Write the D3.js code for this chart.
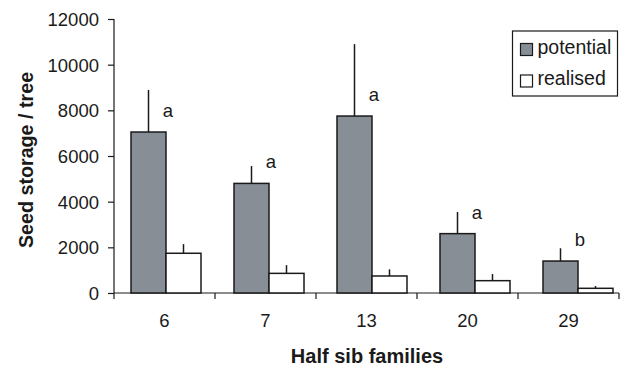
<!DOCTYPE html>
<html><head><meta charset="utf-8">
<script src="https://cdn.jsdelivr.net/npm/d3@7"></script>
<style>body{margin:0;background:#fff}svg{display:block}text{font-family:"Liberation Sans",Arial,sans-serif;fill:#1a1a1a}</style>
</head><body><svg id="c" width="633" height="368"></svg>
<script>
const categories = ["6","7","13","20","29"];
const series = ["potential","realised"];
const potential = [7050, 4800, 7750, 2600, 1400];
const potentialErr = [1840, 760, 3150, 950, 560];
const realised = [1740, 860, 745, 540, 205];
const realisedErr = [400, 360, 290, 290, 100];
const letters = ["a","a","a","a","b"];
const yTicks = [0,2000,4000,6000,8000,10000,12000];

const svg = d3.select("#c");
const y = d3.scaleLinear().domain([0,12000]).range([293,19]);
const xAxisScale = d3.scaleBand().domain(categories).range([114,619]).padding(0);
const xBar = d3.scaleBand().domain(categories).range([114.5,629.5]).padding(0);
const barW = 35;
const xs = d3.scaleBand().domain(series).range([-barW, barW]);
const fills = {potential:"#878e95", realised:"#ffffff"};
const vals = {potential, realised};
const errs = {potential: potentialErr, realised: realisedErr};
const ink = "#1a1a1a";

// y axis
const ya = svg.append("g").attr("transform","translate(114,0)")
  .call(d3.axisLeft(y).tickValues(yTicks).tickSize(6).tickPadding(9).tickFormat(d3.format("d")));
ya.attr("font-size",null).attr("font-family",null);
ya.select(".domain").attr("stroke",ink).attr("stroke-width",1.2).attr("d","M0,19V293");
ya.selectAll(".tick line").attr("stroke",ink).attr("stroke-width",1.2);
ya.selectAll(".tick text").style("font-size","18.5px").attr("fill",ink).attr("dy","0.35em");

// x axis
const xa = svg.append("g").attr("transform","translate(0,293)")
  .call(d3.axisBottom(xAxisScale).tickSize(0).tickPadding(21));
xa.attr("font-size",null).attr("font-family",null);
xa.select(".domain").attr("stroke",ink).attr("stroke-width",1.2).attr("d","M114,0H619");
xa.selectAll(".tick text").style("font-size","18.5px").attr("fill",ink);
const bounds = categories.map(c => xAxisScale(c)).concat([xAxisScale(categories[categories.length-1]) + xAxisScale.bandwidth()]);
xa.selectAll("line.bt").data(bounds).join("line").attr("class","bt")
  .attr("x1",d=>d).attr("x2",d=>d).attr("y1",0).attr("y2",6).attr("stroke",ink).attr("stroke-width",1.2);

// bars
series.forEach(s => {
  const g = svg.append("g");
  categories.forEach((c,i) => {
    const cx = xBar(c) + xBar.bandwidth()/2;
    const x0 = cx + xs(s);
    const v = vals[s][i], e = errs[s][i];
    g.append("line").attr("x1",x0+barW/2).attr("x2",x0+barW/2)
      .attr("y1",y(v)).attr("y2",y(v+e)).attr("stroke",ink).attr("stroke-width",1.5);
    g.append("rect").attr("x",x0).attr("y",y(v)).attr("width",barW).attr("height",y(0)-y(v))
      .attr("fill",fills[s]).attr("stroke",ink).attr("stroke-width",1.5);
  });
});

// letters
svg.append("g").selectAll("text").data(categories).join("text")
  .attr("x",(c)=>xBar(c)+xBar.bandwidth()/2+2)
  .attr("y",(c,i)=>y(potential[i])-15)
  .attr("text-anchor","middle").style("font-size","18.5px").text((c,i)=>letters[i]);

// axis titles
svg.append("text").attr("transform","translate(33,160) rotate(-90)").attr("text-anchor","middle")
  .style("font-size","19.7px").attr("font-weight","bold").text("Seed storage / tree");
svg.append("text").attr("x",367).attr("y",363).attr("text-anchor","middle")
  .style("font-size","20px").attr("font-weight","bold").text("Half sib families");

// legend
const lg = svg.append("g");
lg.append("rect").attr("x",512.5).attr("y",31).attr("width",105).attr("height",65)
  .attr("fill","#fff").attr("stroke",ink).attr("stroke-width",1.2);
series.forEach((s,i)=>{
  lg.append("rect").attr("x",520.5).attr("y",43.5+i*31.5).attr("width",12).attr("height",12)
    .attr("fill",fills[s]).attr("stroke",ink).attr("stroke-width",1.2);
  lg.append("text").attr("x",537.5).attr("y",53.5+i*31).style("font-size","19.5px").text(s);
});
</script></body></html>
